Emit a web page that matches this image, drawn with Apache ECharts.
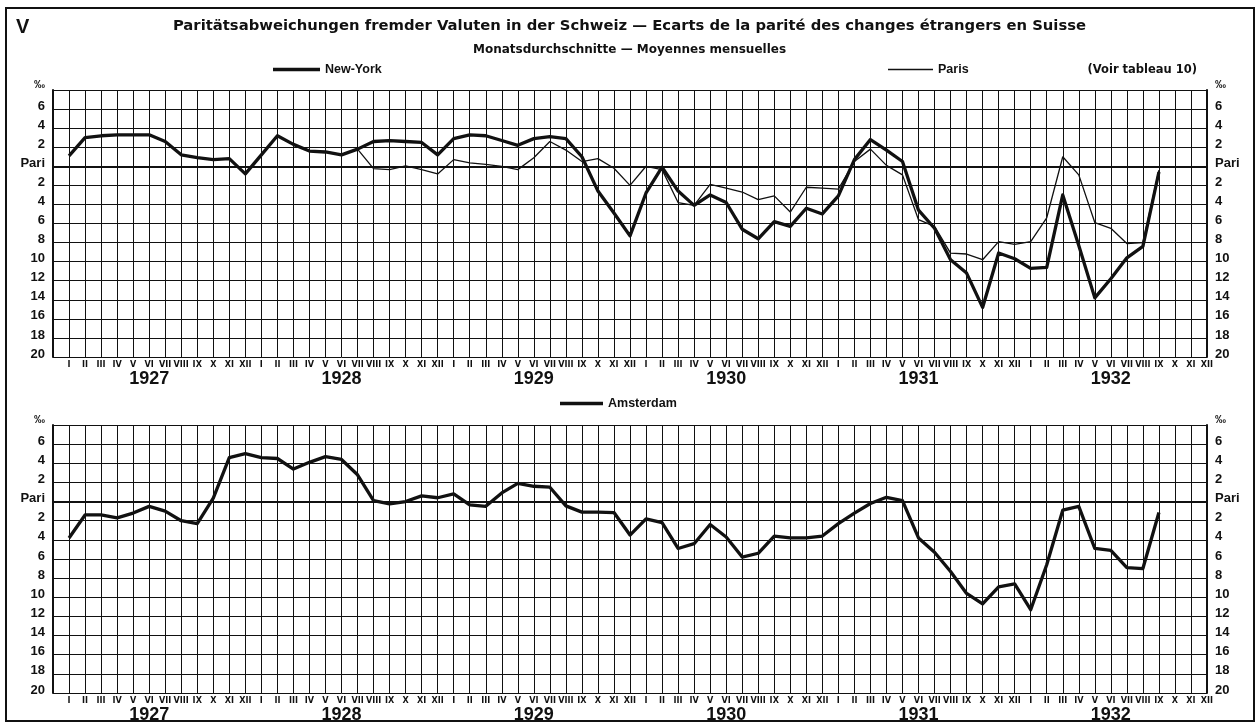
<!DOCTYPE html>
<html>
<head>
<meta charset="utf-8">
<script src="https://cdn.jsdelivr.net/npm/echarts@6/dist/echarts.min.js"></script>
<style>
html,body{margin:0;padding:0;background:#fff;}
#chart{width:1259px;height:724px;}
</style>
</head>
<body>
<div id="chart"></div>
<script>
// ---- data (monthly averages, per mille deviation from parity; + above Pari, - below) ----
const monthLabels = ['I','II','III','IV','V','VI','VII','VIII','IX','X','XI','XII'];
const years = ['1927','1928','1929','1930','1931','1932'];

const newYork = [
  1.1, 3.0, 3.2, 3.3, 3.3, 3.3, 2.6, 1.2, 0.9, 0.7, 0.8, -0.8,
  1.2, 3.2, 2.3, 1.6, 1.5, 1.2, 1.8, 2.6, 2.7, 2.6, 2.5, 1.2,
  2.9, 3.3, 3.2, 2.7, 2.2, 2.9, 3.1, 2.9, 1.0, -2.6, -4.9, -7.3,
  -2.8, -0.1, -2.6, -4.1, -3.0, -3.8, -6.6, -7.6, -5.8, -6.3, -4.4, -5.0,
  -3.1, 0.7, 2.8, 1.7, 0.5, -4.6, -6.5, -9.8, -11.2, -14.8, -9.1, -9.7,
  -10.7, -10.6, -3.0, -8.3, -13.8, -11.8, -9.6, -8.4, -0.6, null, null, null
];
const paris = [
  null, null, null, null, null, null, null, null, null, null, null, null,
  null, null, null, null, null, null, 1.8, -0.25, -0.35, 0.05, -0.35, -0.8,
  0.7, 0.35, 0.2, 0.0, -0.35, 0.9, 2.6, 1.7, 0.5, 0.8, -0.2, -2.0,
  0.0, -0.35, -3.8, -4.1, -1.9, -2.3, -2.7, -3.5, -3.1, -4.8, -2.2, -2.3,
  -2.4, 0.5, 1.8, 0.1, -0.9, -5.6, -6.3, -9.1, -9.2, -9.8, -7.9, -8.2,
  -7.9, -5.4, 1.0, -0.9, -5.9, -6.5, -8.1, -8.0, -0.4, null, null, null
];
const amsterdam = [
  -3.8, -1.4, -1.4, -1.7, -1.2, -0.5, -1.0, -2.0, -2.3, 0.35, 4.6, 5.0,
  4.6, 4.5, 3.4, 4.1, 4.7, 4.4, 2.8, 0.1, -0.25, 0.0, 0.6, 0.4,
  0.8, -0.35, -0.5, 0.9, 1.9, 1.6, 1.5, -0.45, -1.1, -1.1, -1.15, -3.5,
  -1.8, -2.2, -4.9, -4.4, -2.4, -3.7, -5.8, -5.4, -3.6, -3.8, -3.8, -3.6,
  -2.3, -1.2, -0.2, 0.45, 0.1, -3.8, -5.3, -7.3, -9.6, -10.7, -8.9, -8.6,
  -11.3, -6.6, -0.9, -0.5, -4.9, -5.1, -6.9, -7.0, -1.15, null, null, null
];

const titleMain = 'Paritätsabweichungen fremder Valuten in der Schweiz — Ecarts de la parité des changes étrangers en Suisse';
const titleSub = 'Monatsdurchschnitte — Moyennes mensuelles';

// ---- helpers ----
function toPoints(arr) {
  return arr.map((v, i) => [i + 1, v]).filter(p => p[1] !== null);
}
const FONT = '"Liberation Sans", Arial, sans-serif';
const WIDE = '"DejaVu Sans", "Liberation Sans", sans-serif';
const NARROW = '"Liberation Sans Narrow", "DejaVu Sans Condensed", "Liberation Sans", sans-serif';
const INK = '#111';

function yLabel(v) {
  if (v === 8) return '{p|‰}';
  if (v === 0) return 'Pari';
  return String(Math.abs(v));
}
function monthLabel(v) {
  if (v < 1 || v > 72) return '';
  return monthLabels[(v - 1) % 12];
}

function monthAxis(g) {
  return {
    type: 'value', gridIndex: g, min: 0, max: 72, interval: 1, position: 'bottom',
    axisLine: { show: true, lineStyle: { color: INK, width: 2 } },
    axisTick: { show: false },
    axisLabel: { formatter: monthLabel, fontSize: 9, fontWeight: 'bold', color: INK, fontFamily: NARROW, margin: 3, showMinLabel: false, hideOverlap: false },
    splitLine: { show: true, lineStyle: { color: INK, width: 1 } }
  };
}
function yearAxis(g) {
  return {
    type: 'category', gridIndex: g, data: years, boundaryGap: true, position: 'bottom', offset: 5,
    axisLine: { show: false }, axisTick: { show: false }, splitLine: { show: false },
    axisLabel: { fontSize: 18, fontWeight: 'bold', color: INK, fontFamily: FONT, margin: 8 }
  };
}
function valueAxis(g, pos) {
  return {
    type: 'value', gridIndex: g, min: -20, max: 8, interval: 2, position: pos,
    axisLine: { show: true, lineStyle: { color: INK, width: 2 } },
    axisTick: { show: false },
    axisLabel: {
      formatter: yLabel, fontSize: 13, fontWeight: 'bold', color: INK, fontFamily: FONT,
      margin: 8, padding: [0, 0, 6, 0],
      rich: { p: { fontSize: 11, fontWeight: 'bold', color: INK, fontFamily: FONT, padding: [0, 0, 4, 0] } }
    },
    splitLine: { show: pos === 'left', lineStyle: { color: INK, width: 1 } }
  };
}

const chart = echarts.init(document.getElementById('chart'), null, { renderer: 'canvas' });
chart.setOption({
  backgroundColor: '#fff',
  animation: false,
  title: [
    { text: 'V', left: 16, top: 17, padding: 0, textStyle: { fontSize: 20, fontWeight: 'bold', color: INK, fontFamily: FONT } },
    { text: titleMain, left: 'center', top: 19, padding: 0, textStyle: { fontSize: 14.8, fontWeight: 'bold', color: INK, fontFamily: WIDE } },
    { text: titleSub, left: 'center', top: 44, padding: 0, textStyle: { fontSize: 12, fontWeight: 'bold', color: INK, fontFamily: WIDE } },
    { text: '(Voir tableau 10)', right: 62, top: 64, padding: 0, textStyle: { fontSize: 11.5, fontWeight: 'bold', color: INK, fontFamily: WIDE } }
  ],
  legend: [
    { data: ['New-York'], left: 273, top: 63, padding: 0, itemWidth: 47, itemHeight: 3.5, icon: 'rect',
      textStyle: { fontSize: 12.5, fontWeight: 'bold', color: INK, fontFamily: FONT } },
    { data: ['Paris'], left: 888, top: 63, padding: 0, itemWidth: 45, itemHeight: 1.4, icon: 'rect',
      textStyle: { fontSize: 12.5, fontWeight: 'bold', color: INK, fontFamily: FONT } },
    { data: ['Amsterdam'], left: 560, top: 397, padding: 0, itemWidth: 43, itemHeight: 3.5, icon: 'rect',
      textStyle: { fontSize: 12.5, fontWeight: 'bold', color: INK, fontFamily: FONT } }
  ],
  grid: [
    { left: 53, right: 52, top: 90, height: 267 },
    { left: 53, right: 52, top: 425, height: 268 }
  ],
  xAxis: [monthAxis(0), yearAxis(0), monthAxis(1), yearAxis(1)],
  yAxis: [valueAxis(0, 'left'), valueAxis(0, 'right'), valueAxis(1, 'left'), valueAxis(1, 'right')],
  series: [
    { name: 'New-York', type: 'line', xAxisIndex: 0, yAxisIndex: 0, data: toPoints(newYork), symbol: 'none',
      lineStyle: { color: INK, width: 3.3, join: 'round' }, itemStyle: { color: INK }, z: 5 },
    { name: 'Paris', type: 'line', xAxisIndex: 0, yAxisIndex: 0, data: toPoints(paris), symbol: 'none',
      lineStyle: { color: INK, width: 1.3 }, itemStyle: { color: INK }, z: 4 },
    { name: 'Amsterdam', type: 'line', xAxisIndex: 2, yAxisIndex: 2, data: toPoints(amsterdam), symbol: 'none',
      lineStyle: { color: INK, width: 3.3, join: 'round' }, itemStyle: { color: INK }, z: 5 }
  ],
  graphic: [
    { type: 'rect', shape: { x: 6, y: 8, width: 1248, height: 713 }, style: { fill: null, stroke: INK, lineWidth: 2 }, silent: true, z: 100 }
  ]
});
</script>
</body>
</html>
